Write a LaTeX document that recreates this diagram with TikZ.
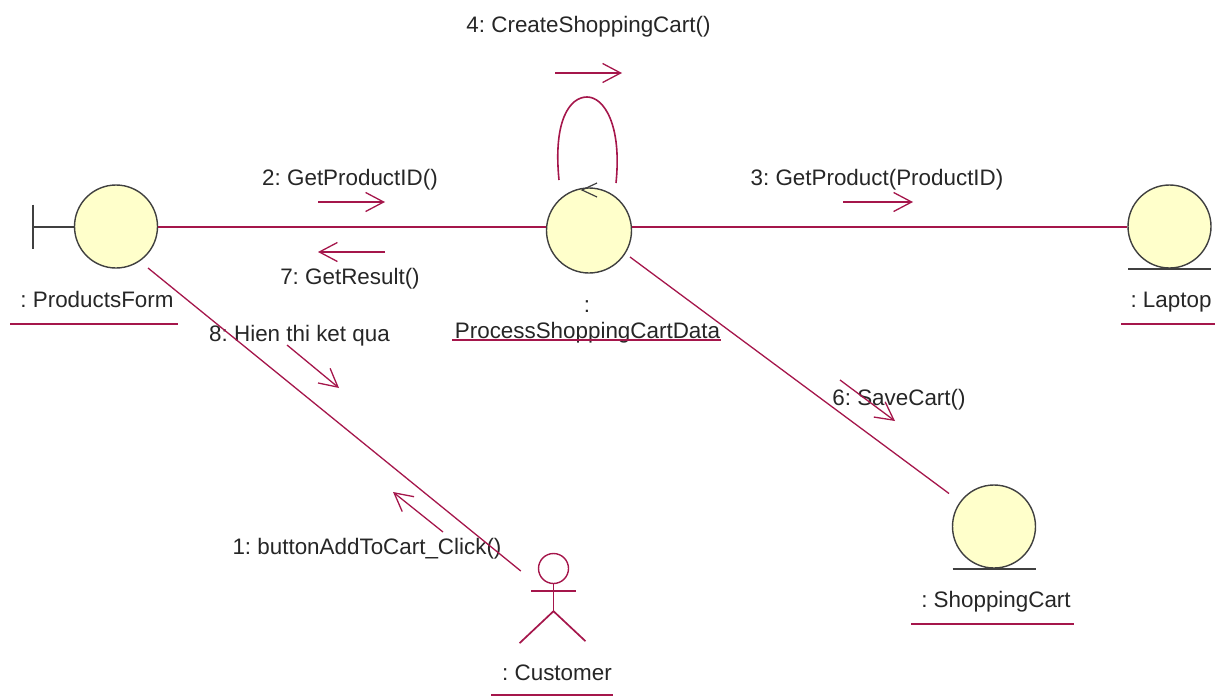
\documentclass[tikz,border=0pt]{standalone}
\usepackage{fontspec}
\setmainfont{Liberation Sans}
\usetikzlibrary{positioning}
\usetikzlibrary{arrows.meta}
\definecolor{rosered}{HTML}{A5164B}
\definecolor{rosefill}{HTML}{FFFFCB}
\definecolor{rosegray}{HTML}{404040}

\begin{document}
\frenchspacing
\begin{tikzpicture}[x=1pt, y=1pt, node distance = 73pt, auto]
    \tikzstyle{entity} = [circle, draw=rosegray, fill=rosefill, line width=1.4pt, minimum size=83pt, inner sep=0pt]
    \tikzstyle{tag} = [font=\fontsize{22.4pt}{26pt}\selectfont, text=black!85, text height=20pt, text depth=5pt, inner sep=0pt]
    \tikzstyle{link} = [draw=rosered, line width=1.3pt]
    \tikzstyle{wire} = [draw=rosered, line width=2pt]
    \tikzstyle{msg} = [draw=rosered, line width=1.3pt, -{Straight Barb[length=18pt, width=19pt]}]
    \tikzstyle{stem} = [draw=rosegray, line width=2pt]
    \useasboundingbox (0,0) rectangle (1215,-696);
    % objects
    \node [entity] (form) at (116,-226.5) {};
    \node [entity, right of=form, node distance = 473pt, yshift=-4pt, minimum size=85pt] (process) {};
    \node [entity, right of=form, node distance = 1053.5pt] (laptop) {};
    \node [entity, below of=laptop, node distance = 300pt, xshift=-175.5pt] (cart) {};
    \node [circle, draw=rosered, line width=1.4pt, minimum size=30pt, inner sep=0pt, below of=process, node distance = 338pt, xshift=-35.5pt] (customer) {};
    % object names
    \node [tag, below of=form, xshift=-19pt] (formtext) {: ProductsForm};
    \node [tag, below of=process, yshift=-1pt, xshift=-2pt] (dots) {:};
    \node [tag, below of=dots, node distance = 26pt, xshift=0.5pt] (processtext) {ProcessShoppingCartData};
    \node [tag, below of=laptop, xshift=1.5pt] (laptoptext) {: Laptop};
    \node [tag, below of=cart, xshift=2pt] (carttext) {: ShoppingCart};
    \node [tag, below of=customer, node distance = 104.5pt, xshift=3.5pt] (customertext) {: Customer};
    % message texts
    \node [tag] (text1) at (367,-547) {1: buttonAddToCart\_Click()};
    \node [tag] (text2) at (350,-178) {2: GetProductID()};
    \node [tag] (text3) at (877,-178) {3: GetProduct(ProductID)};
    \node [tag] (text4) at (588.5,-25) {4: CreateShoppingCart()};
    \node [tag] (text6) at (899,-398) {6: SaveCart()};
    \node [tag] (text7) at (350,-277) {7: GetResult()};
    \node [tag] (text8) at (299.5,-334) {8: Hien thi ket qua};
    % message arrows
    \coordinate (from1) at (443,-532);
    \coordinate (to1) at (393,-492);
    \coordinate (from2) at (318,-202);
    \coordinate (to2) at (385,-202);
    \coordinate (from3) at (843,-202);
    \coordinate (to3) at (913,-202);
    \coordinate (from4) at (555,-73);
    \coordinate (to4) at (622,-73);
    \coordinate (from6) at (840,-380);
    \coordinate (to6) at (895,-421);
    \coordinate (from7) at (385,-252);
    \coordinate (to7) at (318,-252);
    \coordinate (from8) at (287,-345);
    \coordinate (to8) at (339,-388);
    \path [msg] (from1) -- (to1);
    \path [msg] (from2) -- (to2);
    \path [msg] (from3) -- (to3);
    \path [msg] (from4) -- (to4);
    \path [msg] (from6) -- (to6);
    \path [msg] (from7) -- (to7);
    \path [msg] (from8) -- (to8);
    % links
    \path [wire] (form.east) -- ([yshift=4pt]process.west);
    \path [wire] ([yshift=4pt]process.east) -- (laptop.west);
    \path [link] ([xshift=32pt,yshift=-41.5pt]form.center) -- ([xshift=-17pt,yshift=-2.5pt]customer.west);
    \path [link] ([xshift=41pt,yshift=-26.5pt]process.center) -- ([xshift=-45pt,yshift=33pt]cart.center);
    \path [link, line width=1.6pt] (559,-180) .. controls (553,-120) and (570,-97) .. (587,-97) .. controls (604,-97) and (622,-125) .. (616,-183);
    \path [stem, line width=1.2pt] (597,-183) -- (582,-190) -- (597,-197);
    % boundary and entity bars
    \coordinate (formbar) at (33,-226.5);
    \path [stem] (form.west) -- (formbar);
    \path [stem] ([yshift=22pt]formbar) -- ([yshift=-22pt]formbar);
    \path [stem] ([xshift=-41.5pt]laptop.south) -- ([xshift=41.5pt]laptop.south);
    \path [stem] ([xshift=-41.5pt]cart.south) -- ([xshift=41.5pt]cart.south);
    % actor
    \path [link, line width=1.7pt] (customer.south) -- ([yshift=-27pt]customer.south) coordinate (hip);
    \path [link, line width=1.7pt] ([xshift=-22.5pt,yshift=-6.5pt]customer.south) -- ([xshift=22pt,yshift=-6.5pt]customer.south);
    \path [link, line width=1.7pt] ([xshift=-34pt,yshift=-32pt]hip) -- (hip) -- ([xshift=32pt,yshift=-30pt]hip);
    % underlines
    \path [wire] (10,-324) -- (178,-324);
    \path [wire] (452,-340) -- (721,-340);
    \path [wire] (1121,-324) -- (1215,-324);
    \path [wire] (911,-624) -- (1074,-624);
    \path [wire] (491,-695) -- (613,-695);
\end{tikzpicture}
\end{document}
